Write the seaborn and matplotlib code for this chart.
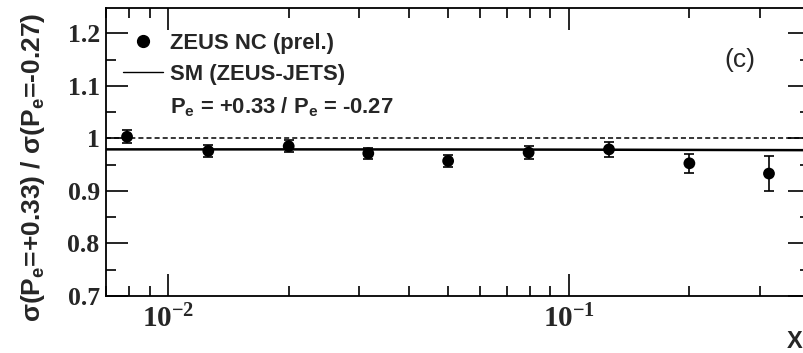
import matplotlib
matplotlib.use("Agg")
import matplotlib.pyplot as plt
import seaborn as sns
import pandas as pd
from matplotlib.lines import Line2D
from matplotlib.ticker import LogLocator, NullFormatter, MultipleLocator

# Measured polarisation-asymmetry ratio vs Bjorken x
x_vals = [0.0079, 0.0126, 0.020, 0.0316, 0.050, 0.0794, 0.126, 0.200, 0.316]
ratio = [1.003, 0.976, 0.985, 0.9715, 0.957, 0.973, 0.979, 0.9525, 0.933]
ratio_err = [0.012, 0.012, 0.011, 0.011, 0.011, 0.013, 0.014, 0.018, 0.033]

# Standard Model expectation (ZEUS-JETS PDFs)
sm_x = [0.007, 0.02, 0.05, 0.1, 0.2, 0.4]
sm_ratio = [0.979, 0.979, 0.9788, 0.9785, 0.978, 0.9775]

y_ticks = [0.7, 0.8, 0.9, 1.0, 1.1, 1.2]
y_tick_labels = ["0.7", "0.8", "0.9", "1", "1.1", "1.2"]
x_ticks = [0.01, 0.1]
x_tick_labels = [r"$\mathrm{10^{-2}}$", r"$\mathrm{10^{-1}}$"]

data = pd.DataFrame({"x": x_vals, "ratio": ratio, "err": ratio_err})
sm = pd.DataFrame({"x": sm_x, "ratio": sm_ratio})

sns.set_theme(style="ticks")
plt.rcParams.update({
    "font.family": ["Liberation Sans", "DejaVu Sans"],
    "mathtext.fontset": "custom",
    "mathtext.rm": "Liberation Serif:bold",
    "mathtext.sf": "Liberation Sans:bold",
    "axes.linewidth": 1.3,
    "axes.edgecolor": "black",
})

W, H = 804, 353
fig = plt.figure(figsize=(W / 100, H / 100), dpi=100)
ax = fig.add_axes([106 / W, 57 / H, 704 / W, 288 / H])
ax.set_xscale("log")
ax.set_xlim(0.007, 0.4)
ax.set_ylim(0.7, 1.248)

ax.axhline(1.0, color="black", lw=1.1, dashes=(3.3, 2.0))
sns.lineplot(data=sm, x="x", y="ratio", ax=ax, color="black", lw=1.8)
ax.errorbar(data["x"], data["ratio"], yerr=data["err"], fmt="none",
            ecolor="black", elinewidth=1.2, capsize=3.5, capthick=1.2, zorder=3)
sns.scatterplot(data=data, x="x", y="ratio", ax=ax, color="black", s=72,
                edgecolor="none", zorder=4)

ax.set_yticks(y_ticks, labels=y_tick_labels)
ax.yaxis.set_minor_locator(MultipleLocator(0.05))
ax.set_xticks(x_ticks, labels=x_tick_labels)
ax.xaxis.set_minor_locator(LogLocator(base=10, subs=[2, 3, 4, 5, 6, 7, 8, 9]))
ax.xaxis.set_minor_formatter(NullFormatter())

ax.tick_params(which="both", direction="in", top=True, right=True,
               color="black", width=1.2)
ax.tick_params(which="major", length=16)
ax.tick_params(which="minor", length=7.5)
ax.tick_params(axis="y", which="major", pad=4.5)
ax.tick_params(axis="x", which="major", pad=6)
for lab in ax.get_yticklabels():
    lab.set_fontfamily("Liberation Serif")
    lab.set_fontweight("bold")
    lab.set_fontsize(18.5)
for lab in ax.get_xticklabels():
    lab.set_fontsize(21)

ax.set_xlabel("")
ax.set_ylabel(r"σ(P$_\mathsf{e}$=+0.33) / σ(P$_\mathsf{e}$=-0.27)",
              fontsize=19, fontweight="bold")
ax.yaxis.set_label_coords(-0.084, 0.446)

fig.text(787 / W, 0.0, "X", ha="left", va="bottom",
         fontsize=17, fontweight="bold")
ax.text(0.9006, 0.819, "(c)", transform=ax.transAxes, ha="center",
        va="center", fontsize=19)

handles = [
    Line2D([], [], marker="o", ls="none", color="black", ms=8.5),
    Line2D([], [], color="black", lw=1.0),
    Line2D([], [], ls="none"),
]
labels = ["ZEUS NC (prel.)", "SM (ZEUS-JETS)",
          r"P$_\mathsf{e}$ = +0.33 / P$_\mathsf{e}$ = -0.27"]
ax.legend(handles, labels, loc="upper left", bbox_to_anchor=(0.0237, 0.913),
          frameon=False, borderpad=0, borderaxespad=0, handlelength=1.85,
          handletextpad=0.3, labelspacing=0.46,
          prop={"family": "Liberation Sans", "weight": "bold", "size": 15.8})

fig.savefig("out.png", dpi=100)
